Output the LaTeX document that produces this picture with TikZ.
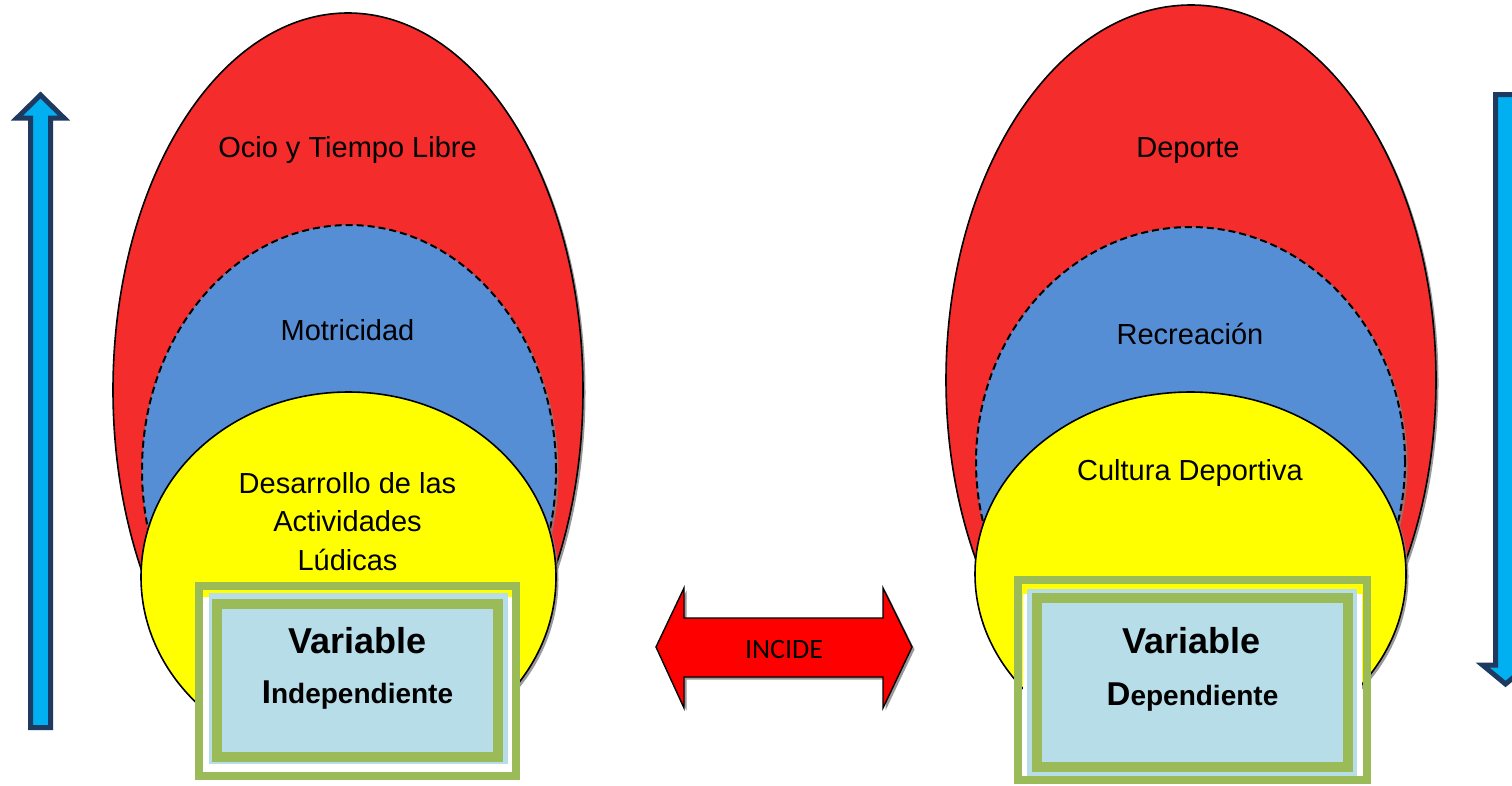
\documentclass[tikz,border=0pt]{standalone}
\usepackage{fontspec}
\setmainfont{Liberation Sans}
\newfontfamily\calib{Carlito}
\usetikzlibrary{shadows,shapes.geometric}
\definecolor{ored}{HTML}{F52C2C}
\definecolor{oblue}{HTML}{558ED5}
\definecolor{oyel}{HTML}{FFFF00}
\definecolor{lblue}{HTML}{B7DDE8}
\definecolor{ogreen}{HTML}{9BBB59}
\definecolor{acyan}{HTML}{00B0F0}
\definecolor{anavy}{HTML}{1F3A60}
\definecolor{ired}{HTML}{FF0000}
\begin{document}
\begin{tikzpicture}[x=1pt,y=-1pt,
  shad/.style={drop shadow={shadow xshift=2.5pt,shadow yshift=-2.5pt,fill=black!50,opacity=.8}},
  ell/.style={ellipse,draw=black,line width=1.6pt,shad,inner sep=0pt},
  dashell/.style={ell,dash pattern=on 7pt off 4pt,line width=2pt},
  lbl/.style={font=\fontsize{29}{38.5}\selectfont,inner sep=0pt,anchor=base},
  lbllines/.style={font=\fontsize{29}{38.5}\selectfont,inner sep=0pt,anchor=north,align=center},
  varbig/.style={font=\fontsize{36}{40}\selectfont\bfseries,inner sep=0pt,anchor=base},
  varsmall/.style={font=\fontsize{28}{32}\selectfont\bfseries,inner sep=0pt,anchor=base},
  frameout/.style={draw=ogreen,line width=8pt,inner sep=0pt},
  framein/.style={draw=ogreen,line width=10pt,fill=lblue,inner sep=0pt},
  bluearrow/.style={draw=anavy,fill=acyan,line width=5pt},
  incarrow/.style={draw=black,fill=ired,line width=1.4pt,shad}
]
\clip (0,0) rectangle (1512,785);
\fill[white] (0,0) rectangle (1512,785);

% side arrows
\draw[bluearrow] (30.5,727.5) -- (30.5,118) -- (17,118) -- (40.5,95) -- (64,118) -- (50.5,118) -- (50.5,727.5) -- cycle;
\draw[bluearrow] (1495.5,94.5) -- (1495.5,665) -- (1482.5,665) -- (1505.5,684) -- (1528.5,665) -- (1515.5,665) -- (1515.5,94.5) -- cycle;

% left group
\node[ell,fill=ored,minimum width=470pt,minimum height=754pt] (redL) at (348,390) {};
\node[dashell,fill=oblue,minimum width=414pt,minimum height=490pt] (blueL) at (349,470) {};
\node[ell,fill=oyel,minimum width=415pt,minimum height=370pt] (yelL) at (348.5,577) {};
\node[lbl] (ocio) at (347.5,157) {Ocio y Tiempo Libre};
\node[lbl] (motr) at (347.5,340) {Motricidad};
\node[lbllines] (desa) at (347.5,472) {Desarrollo de las\\Actividades\\Lúdicas};

\fill[white] (203,597) rectangle (512,770);
\fill[lblue] (209,593) rectangle (508,764);
\node[framein,minimum width=281pt,minimum height=153pt] (boxI) at (357.5,680.5) {};
\node[frameout,minimum width=317pt,minimum height=190pt] (frameI) at (357.5,681) {};
\node[varbig] (varI) at (357.5,653) {Variable};
\node[varsmall] (indep) at (357.5,703) {{\fontsize{33}{36}\selectfont I}ndependiente};

% right group
\node[ell,fill=ored,minimum width=490pt,minimum height=750pt] (redR) at (1191,380) {};
\node[dashell,fill=oblue,minimum width=429pt,minimum height=470pt] (blueR) at (1190.5,462) {};
\node[ell,fill=oyel,minimum width=431pt,minimum height=364pt] (yelR) at (1190.5,574) {};
\node[lbl] (depo) at (1188,157) {Deporte};
\node[lbl] (recr) at (1190,344) {Recreación};
\node[lbl] (cult) at (1190,480) {Cultura Deportiva};

\fill[white] (1023,594) rectangle (1362,780);
\fill[lblue] (1027,589) rectangle (1357,776);
\node[framein,minimum width=311pt,minimum height=169pt] (boxD) at (1192.5,682.5) {};
\node[frameout,minimum width=349pt,minimum height=200pt] (frameD) at (1192.5,680) {};
\node[varbig] (varD) at (1191.5,653) {Variable};
\node[varsmall] (dep) at (1192.5,705) {{\fontsize{33}{36}\selectfont D}ependiente};

% INCIDE double arrow
\draw[incarrow] (656,647) -- (684,588) -- (684,618) -- (883,618) -- (883,588) -- (912,647) -- (883,708) -- (883,677) -- (684,677) -- (684,708) -- cycle;
\node[font=\calib\fontsize{28}{30}\selectfont,inner sep=0pt] (incide) at (784,649) {INCIDE};
\end{tikzpicture}
\end{document}
